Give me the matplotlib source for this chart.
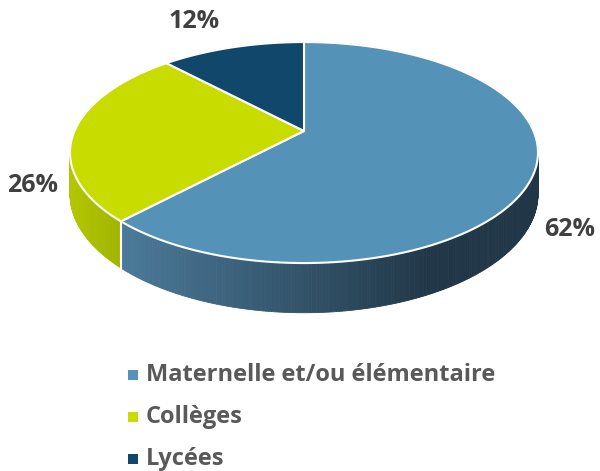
import numpy as np
import matplotlib
matplotlib.use("Agg")
import matplotlib.pyplot as plt
from matplotlib.patches import Polygon, Rectangle
from matplotlib.colors import to_rgb

# data
labels = ["Maternelle et/ou élémentaire", "Collèges", "Lycées"]
values = [62, 26, 12]
colors = ["#5592b8", "#c8dc00", "#12476c"]
side_left = ["#4a7898", "#b2c600", "#0f3b59"]
side_right = ["#213747", "#9db100", "#0b2a40"]

# geometry of the tilted pie (pixels)
cx, cy0 = 304, 131
A, B, k = 229.5, 106.3, 0.195
H = 40


def proj(t, z=0.0):
    X, Y = np.cos(t), np.sin(t)
    w = 1 + k * Y
    return cx + A * X / w, cy0 - B * Y / w + H * z / w


def mix(c1, c2, f):
    f = min(max(f, 0), 1)
    a, b = np.array(to_rgb(c1)), np.array(to_rgb(c2))
    return a + (b - a) * f


fig = plt.figure(figsize=(6, 4.71), dpi=100)
ax = fig.add_axes([0, 0, 1, 1])
ax.set_xlim(0, 600)
ax.set_ylim(471, 0)
ax.axis("off")

total = sum(values)
bounds = []
start = np.pi / 2
for v in values:
    end = start - 2 * np.pi * v / total
    bounds.append((end, start))
    start = end

# side strips, far ones first
strips = []
for i, (t0, t1) in enumerate(bounds):
    ts = np.linspace(t0, t1, int(abs(t1 - t0) / 0.01) + 2)
    for a, b in zip(ts[:-1], ts[1:]):
        strips.append((np.sin((a + b) / 2), i, a, b))
strips.sort(key=lambda s: -s[0])
for _, i, a, b in strips:
    xa, ya = proj(a)
    xb, yb = proj(b)
    xa2, ya2 = proj(a, 1)
    xb2, yb2 = proj(b, 1)
    xm = (xa + xb) / 2
    if i == 0:
        f = (xm - 130) / 300
    elif i == 1:
        f = (xm - 72) / 60
    else:
        f = 0.5
    c = mix(side_left[i], side_right[i], f)
    ax.add_patch(Polygon([(xa, ya), (xb, yb), (xb2, yb2), (xa2, ya2)],
                         closed=True, facecolor=c, edgecolor=c, lw=0.6))

# white seam between visible side faces
t_seam = bounds[0][0]
xs, ys = proj(t_seam)
xs2, ys2 = proj(t_seam, 1)
ax.plot([xs, xs2], [ys, ys2], color="white", lw=1.5)

# top faces
for i, (t0, t1) in enumerate(bounds):
    ts = np.linspace(t0, t1, 200)
    pts = [proj(t) for t in ts]
    pts.append((cx, cy0))
    ax.add_patch(Polygon(pts, closed=True, facecolor=colors[i],
                         edgecolor="white", lw=1.5, joinstyle="round"))

# percentage labels
label_pos = [(570, 230), (33, 185), (194, 21)]
for v, (x, y) in zip(values, label_pos):
    ax.text(x, y, f"{v}%", ha="center", va="center", fontsize=18,
            fontweight="bold", color="#404040", family="Open Sans")

# legend
leg_y = [375, 417, 459]
for lab, c, y in zip(labels, colors, leg_y):
    ax.add_patch(Rectangle((128, y - 5), 10, 10, facecolor=c, edgecolor="none"))
    ax.text(146, y, lab, ha="left", va="center", fontsize=17,
            fontweight="bold", color="#595959", family="Open Sans")

fig.savefig("out.png", dpi=100)
